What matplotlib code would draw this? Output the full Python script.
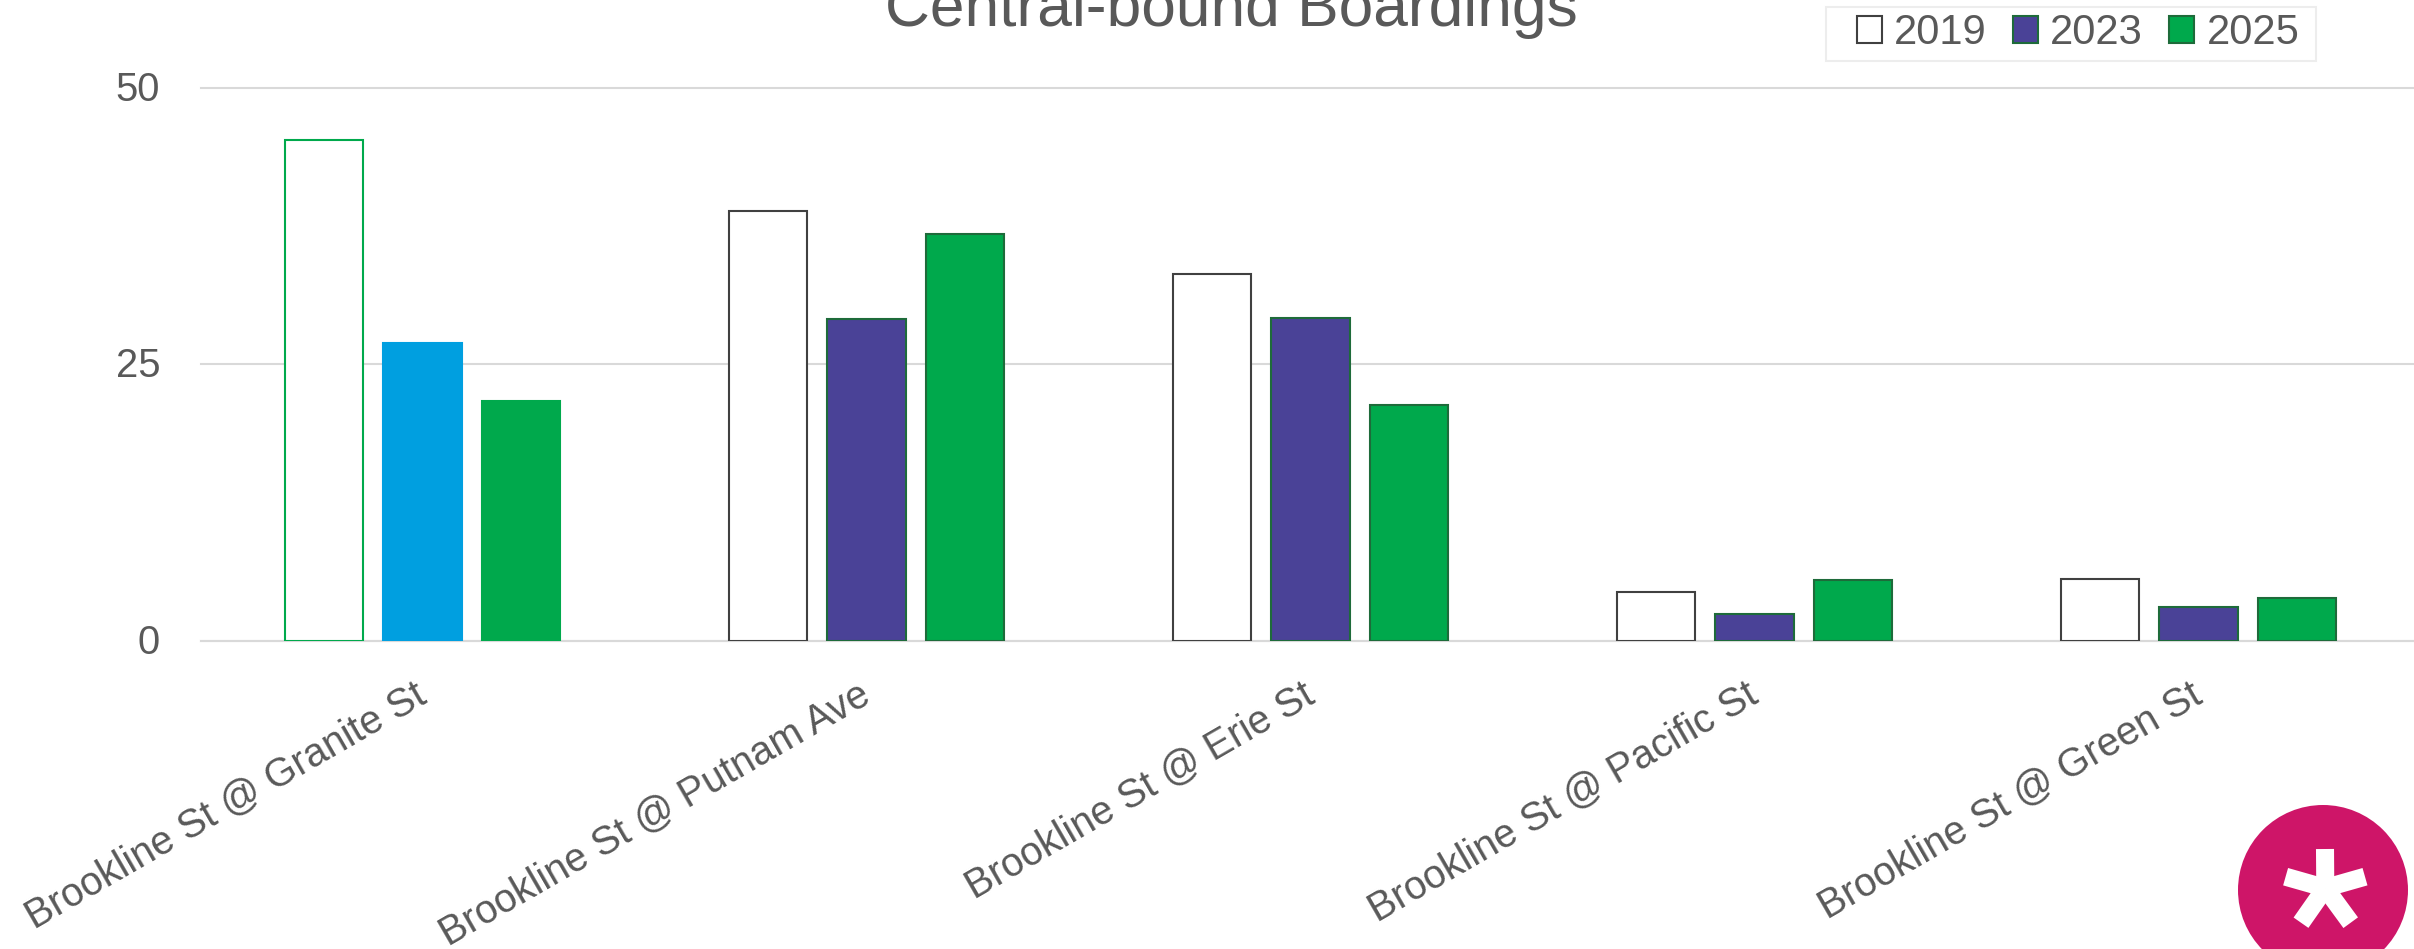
import numpy as np
import matplotlib.pyplot as plt
from matplotlib.patches import Circle, Patch, Rectangle
from matplotlib.transforms import ScaledTranslation

plt.rcParams['font.family'] = ['Liberation Sans', 'DejaVu Sans']

stops = ['Brookline St @ Granite St', 'Brookline St @ Putnam Ave', 'Brookline St @ Erie St',
         'Brookline St @ Pacific St', 'Brookline St @ Green St']
years = ['2019', '2023', '2025']
boardings_2019 = [45.3, 38.85, 33.2, 4.4, 5.55]
boardings_2023 = [26.95, 29.1, 29.2, 2.45, 3.05]
boardings_2025 = [21.65, 36.8, 21.35, 5.45, 3.9]
yticks = [0, 25, 50]

TEXT = '#595959'
GRID = '#D9D9D9'
PURPLE = '#4A4297'
GREEN = '#00A94C'
BLUE = '#009FE0'
DARK_EDGE = '#404040'
GREEN_EDGE = '#1E6B3A'

W, H = 2414, 949
fig = plt.figure(figsize=(W / 100, H / 100), dpi=100)
# right end of the axes runs slightly past the image, the original is cropped
ax = fig.add_axes([200.5 / W, (H - 640.7) / H, 2220 / W, 553 / H])

x = np.arange(len(stops))
bar_w = 0.176
step = 0.2216

bars19 = ax.bar(x - step, boardings_2019, bar_w, color='white', edgecolor=DARK_EDGE, linewidth=1.5, zorder=3)
bars23 = ax.bar(x, boardings_2023, bar_w, color=PURPLE, edgecolor=GREEN_EDGE, linewidth=1.5, zorder=3)
bars25 = ax.bar(x + step, boardings_2025, bar_w, color=GREEN, edgecolor=GREEN_EDGE, linewidth=1.5, zorder=3)

# first group is highlighted in the original
bars19[0].set_edgecolor(GREEN)
bars23[0].set_facecolor(BLUE)
bars23[0].set_edgecolor(BLUE)
bars25[0].set_edgecolor(GREEN)

ax.set_xlim(-0.5, 4.5)
ax.set_ylim(0, 50)
ax.set_yticks(yticks)
ax.set_xticks(x)
ax.set_xticklabels(stops, rotation=30, ha='right', va='top', rotation_mode='anchor',
                   fontsize=28.6, color=TEXT)
ax.tick_params(axis='x', length=0, pad=25)
ax.tick_params(axis='y', length=0, pad=29, labelsize=28.8, labelcolor=TEXT)
# nudge the labels, matplotlib places them a few pixels off from the original
shift_x = ScaledTranslation(-9 / 100, 0, fig.dpi_scale_trans)
for lab in ax.get_xticklabels():
    lab.set_transform(lab.get_transform() + shift_x)
shift_y = ScaledTranslation(0, 2 / 100, fig.dpi_scale_trans)
for lab in ax.get_yticklabels():
    lab.set_transform(lab.get_transform() + shift_y)
ax.grid(axis='y', color=GRID, linewidth=1.5, zorder=0)
for line in ax.get_ygridlines():
    line.set_clip_on(False)
ax.set_axisbelow(True)
for side in ['top', 'right', 'left']:
    ax.spines[side].set_visible(False)
ax.spines['bottom'].set_color(GRID)
ax.spines['bottom'].set_linewidth(1.5)

fig.text(1231 / W, 1 - 26 / H, 'Central-bound Boardings', ha='center', va='baseline',
         fontsize=44.8, color=TEXT)

handles = [Patch(facecolor='white', edgecolor=DARK_EDGE, linewidth=1.5),
           Patch(facecolor=PURPLE, edgecolor=GREEN_EDGE, linewidth=1.5),
           Patch(facecolor=GREEN, edgecolor=GREEN_EDGE, linewidth=1.5)]
leg = fig.legend(handles, years, loc='center', bbox_to_anchor=(2078 / W, 1 - 33 / H), ncols=3,
                 fontsize=30, labelcolor=TEXT, frameon=False, handlelength=0.6, handleheight=0.6,
                 handletextpad=0.3, columnspacing=0.62, borderpad=0, borderaxespad=0)
leg.set_zorder(10)

# legend box and logo, drawn in pixel coordinates
over = fig.add_axes([0, 0, 1, 1], zorder=5)
over.set_xlim(0, W)
over.set_ylim(H, 0)
over.axis('off')
over.patch.set_alpha(0)
over.add_patch(Rectangle((1826, 7), 490, 54, facecolor='white', edgecolor='#EDEDED', linewidth=1.5))
over.add_patch(Circle((2323, 890), 85, color='#CE1568', lw=0))
hub = (2325.3, 888)
for tip in [(2325, 849), (2285.6, 876.7), (2365, 876.7), (2301, 922.7), (2350.7, 922.7)]:
    over.plot([hub[0], tip[0]], [hub[1], tip[1]], color='white', lw=13, solid_capstyle='butt')

fig.savefig('out.png', dpi=100)
plt.close(fig)
